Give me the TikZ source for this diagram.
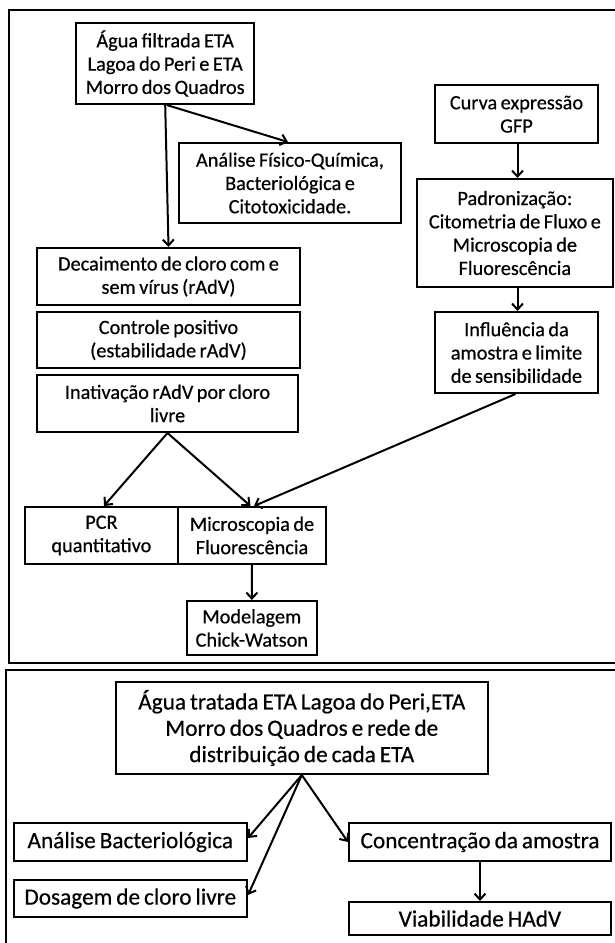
\documentclass[tikz,border=0pt]{standalone}
\usepackage{fontspec}
\setmainfont{Carlito}[WordSpace=0.75, FakeBold=0.5]
\usetikzlibrary{arrows.meta}
\tikzset{
  box/.style={draw=black, line width=2pt, align=center, inner sep=0pt, font=\fontsize{20.3}{23.3}\selectfont},
  bigbox/.style={box, font=\fontsize{23.3}{26.3}\selectfont},
  frame/.style={draw=black, line width=2pt},
  conn/.style={draw=black, line width=2pt, -{Straight Barb[length=6pt,width=11pt,line width=2pt]}}
}
\begin{document}
\begin{tikzpicture}[x=1pt,y=-1pt]
\useasboundingbox (0,0) rectangle (614,943);
% panels
\draw[frame] (8.6,9.5) rectangle (630,662.7);
\draw[frame] (5.7,669.5) rectangle (630,960);
% top panel
\node[box, minimum width=177.6pt, minimum height=81pt] (A) at (165.2,63.5) {Água filtrada ETA\\Lagoa do Peri e ETA\\Morro dos Quadros};
\node[box, minimum width=222pt, minimum height=80pt] (B) at (290,183) {Análise Físico-Química,\\Bacteriológica e\\Citotoxicidade.};
\node[box, minimum width=163pt, minimum height=57.5pt] (C) at (516.5,114.2) {Curva expressão\\GFP};
\node[box, minimum width=195.7pt, minimum height=108pt] (D) at (514.9,233) {Padronização:\\Citometria de Fluxo e\\Microscopia de\\Fluorescência};
\node[box, minimum width=163pt, minimum height=81pt] (E) at (516.5,352.5) {Influência da\\amostra e limite\\de sensibilidade};
\node[box, minimum width=263pt, minimum height=57pt] (F) at (168.5,276.5) {Decaimento de cloro com e\\sem vírus (rAdV)};
\node[box, minimum width=263pt, minimum height=56pt] (G) at (168.5,340) {Controle positivo\\(estabilidade rAdV)};
\node[box, minimum width=261pt, minimum height=57pt] (H) at (167.5,403.5) {Inativação rAdV por cloro\\livre};
\node[box, minimum width=153.3pt, minimum height=57pt] (I) at (101.4,535.5) {PCR\\quantitativo};
\node[box, minimum width=148pt, minimum height=57pt] (J) at (252,535.5) {Microscopia de\\Fluorescência};
\node[box, minimum width=129.5pt, minimum height=54pt] (K) at (251.8,628) {Modelagem\\Chick-Watson};
% bottom panel
\node[bigbox, minimum width=372.5pt, minimum height=92pt] (M) at (301.8,728) {Água tratada ETA Lagoa do Peri,ETA\\Morro dos Quadros e rede de\\distribuição de cada ETA};
\node[bigbox, minimum width=233.5pt, minimum height=38pt] (N) at (130.3,842) {Análise Bacteriológica};
\node[bigbox, minimum width=233.5pt, minimum height=37pt] (O) at (130.3,898.5) {Dosagem de cloro livre};
\node[bigbox, minimum width=262pt, minimum height=38pt] (P) at (480,842) {Concentração da amostra};
\node[bigbox, minimum width=262pt, minimum height=33pt] (Q) at (480,918.5) {Viabilidade HAdV};
% connectors
\draw[conn] ([xshift=1.5pt]A.south) -- ([xshift=-2pt]B.north);
\draw[conn] (A.south) -- (F.north);
\draw[conn] ([xshift=1pt]C.south) -- ([xshift=1pt]C.south |- D.north);
\draw[conn] ([xshift=1pt]E.north |- D.south) -- ([xshift=1pt]E.north);
\draw[conn] (H.south) -- ([xshift=2.5pt]I.north);
\draw[conn] (H.south) -- ([xshift=-1.5pt]J.north);
\draw[conn] ([xshift=-1pt]E.south) -- ([xshift=2pt]J.north);
\draw[conn] (J.south) -- (K.north);
\draw[conn] (M.south) -- ([yshift=4pt]N.east);
\draw[conn] (M.south) -- ([yshift=3.5pt]O.east);
\draw[conn] (M.south) -- (P.west);
\draw[conn] (P.south) -- (Q.north);
\end{tikzpicture}
\end{document}
